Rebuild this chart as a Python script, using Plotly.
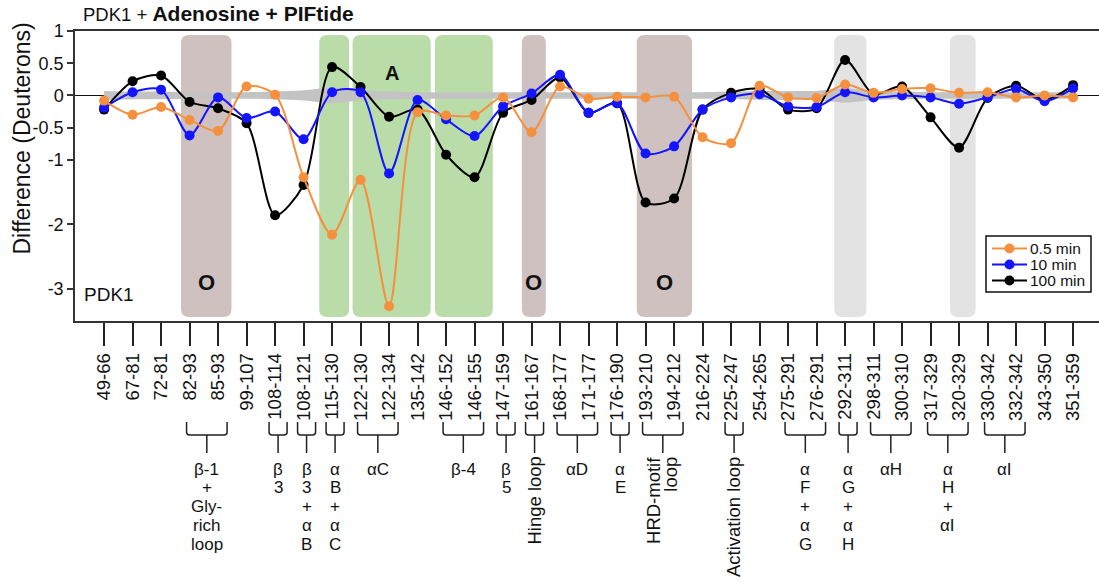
import plotly.graph_objects as go

# ---------------- data ----------------
peptides = ["49-66", "67-81", "72-81", "82-93", "85-93", "99-107", "108-114", "108-121",
            "115-130", "122-130", "122-134", "135-142", "146-152", "146-155", "147-159",
            "161-167", "168-177", "171-177", "176-190", "193-210", "194-212", "216-224",
            "225-247", "254-265", "275-291", "276-291", "292-311", "298-311", "300-310",
            "317-329", "320-329", "330-342", "332-342", "343-350", "351-359"]

diff_05min = [-0.08, -0.30, -0.18, -0.38, -0.55, 0.14, 0.01, -1.27, -2.16, -1.31, -3.27, -0.26,
              -0.31, -0.31, -0.03, -0.57, 0.14, -0.05, -0.02, -0.03, -0.02, -0.65, -0.74, 0.15,
              -0.03, -0.04, 0.17, 0.04, 0.10, 0.11, 0.04, 0.05, -0.03, 0.00, -0.03]
diff_10min = [-0.19, 0.05, 0.09, -0.62, -0.03, -0.35, -0.25, -0.68, 0.05, 0.05, -1.21, -0.07,
              -0.37, -0.63, -0.17, 0.03, 0.32, -0.27, -0.12, -0.90, -0.79, -0.22, -0.03, 0.02,
              -0.17, -0.18, 0.05, -0.03, 0.00, -0.03, -0.13, -0.03, 0.10, -0.09, 0.11]
diff_100min = [-0.22, 0.22, 0.31, -0.10, -0.20, -0.43, -1.86, -1.39, 0.44, 0.13, -0.33, -0.22,
               -0.92, -1.27, -0.27, -0.07, 0.28, -0.27, -0.12, -1.66, -1.60, -0.22, 0.04, 0.10,
               -0.22, -0.20, 0.55, 0.02, 0.14, -0.34, -0.81, -0.04, 0.15, -0.07, 0.16]
# significance band half-width (grey band around zero)
sd_band = [0.07, 0.06, 0.06, 0.05, 0.05, 0.05, 0.06, 0.08, 0.12, 0.08, 0.06, 0.05, 0.05, 0.05,
           0.05, 0.05, 0.05, 0.05, 0.05, 0.05, 0.05, 0.05, 0.06, 0.07, 0.07, 0.07, 0.11, 0.07,
           0.06, 0.05, 0.05, 0.05, 0.05, 0.05, 0.05]

series_names = ["0.5 min", "10 min", "100 min"]

y_tickvals = [1, 0.5, 0, -0.5, -1, -2, -3]
y_ticktext = ["1", "0.5", "0", "-0.5", "-1", "-2", "-3"]

# shaded regions (category positions, kind, label)
regions = [(2.70, 4.47, "brown", "O"), (7.55, 8.60, "green", ""), (8.72, 11.46, "green", "A"),
           (11.61, 13.64, "green", ""), (14.66, 15.50, "brown", "O"), (18.69, 20.63, "brown", "O"),
           (25.62, 26.75, "gray", ""), (29.68, 30.58, "gray", "")]

# secondary-structure groups (first peptide index, last peptide index, stacked label lines)
groups = [(3, 4, ["β-1", "+", "Gly-", "rich", "loop"]),
          (6, 6, ["β", "3"]),
          (7, 7, ["β", "3", "+", "α", "B"]),
          (8, 8, ["α", "B", "+", "α", "C"]),
          (9, 10, ["αC"]),
          (12, 13, ["β-4"]),
          (14, 14, ["β", "5"]),
          (16, 17, ["αD"]),
          (18, 18, ["α", "E"]),
          (24, 25, ["α", "F", "+", "α", "G"]),
          (26, 26, ["α", "G", "+", "α", "H"]),
          (27, 28, ["αH"]),
          (29, 30, ["α", "H", "+", "αI"]),
          (31, 32, ["αI"])]
# groups with rotated labels
rot_groups = [(15, 15, ["Hinge loop"]),
              (19, 20, ["HRD-motif", "loop"]),
              (22, 22, ["Activation loop"])]

# ---------------- layout geometry ----------------
W, H = 1099, 583
ML, MR, MT, MB = 75, 0, 31, 262
PW, PH = W - ML - MR, H - MT - MB
X_RANGE = [-1.02, 34.91]
Y_RANGE = [-3.5, 1.0]
PX_PER_X = PW / (X_RANGE[1] - X_RANGE[0])
PX_PER_Y = PH / (Y_RANGE[1] - Y_RANGE[0])
FONT = "Arial, Liberation Sans, sans-serif"

COL_05 = "#f5913e"
COL_10 = "#1414ff"
COL_100 = "#000000"
REGION_COL = {"brown": "#cfc1c0", "green": "#badca9", "gray": "#e3e3e3"}


def py2paper(py):
    return (MT + PH - py) / PH


def px2paper(px):
    return (px - ML) / PW


x_idx = list(range(len(peptides)))

fig = go.Figure()

# grey band
fig.add_trace(go.Scatter(x=x_idx, y=[-v for v in sd_band], mode="lines",
                         line=dict(width=0, shape="spline", smoothing=0.8, color="#c3c3c3"),
                         showlegend=False, hoverinfo="skip"))
fig.add_trace(go.Scatter(x=x_idx, y=sd_band, mode="lines", fill="tonexty",
                         fillcolor="#c3c3c3",
                         line=dict(width=0, shape="spline", smoothing=0.8, color="#c3c3c3"),
                         showlegend=False, hoverinfo="skip"))

for vals, name, col in [(diff_100min, series_names[2], COL_100),
                        (diff_10min, series_names[1], COL_10),
                        (diff_05min, series_names[0], COL_05)]:
    fig.add_trace(go.Scatter(x=x_idx, y=vals, name=name, mode="lines+markers",
                             line=dict(color=col, width=2, shape="spline", smoothing=0.8),
                             marker=dict(color=col, size=10), showlegend=False))

# tick dots under the x axis
fig.add_trace(go.Scatter(x=x_idx, y=[Y_RANGE[0] - 7.3 / PX_PER_Y] * len(x_idx), mode="markers",
                         marker=dict(color="black", size=9), cliponaxis=False,
                         showlegend=False, hoverinfo="skip"))

shapes = []
annotations = []

# shaded regions with rounded corners
rx = 8 / PX_PER_X
ry = 8 / PH
for x0, x1, kind, lab in regions:
    y1 = py2paper(35)
    y0 = py2paper(317)
    path = (f"M {x0+rx},{y1} L {x1-rx},{y1} Q {x1},{y1} {x1},{y1-ry} L {x1},{y0+ry} "
            f"Q {x1},{y0} {x1-rx},{y0} L {x0+rx},{y0} Q {x0},{y0} {x0},{y0+ry} "
            f"L {x0},{y1-ry} Q {x0},{y1} {x0+rx},{y1} Z")
    shapes.append(dict(type="path", path=path, xref="x", yref="paper",
                       fillcolor=REGION_COL[kind], line=dict(width=0), layer="below"))
    if lab == "O":
        annotations.append(dict(x=(x0 + x1) / 2, y=py2paper(297), xref="x", yref="paper",
                                text="<b>O</b>", showarrow=False,
                                font=dict(family=FONT, size=22, color="#111")))
    elif lab == "A":
        annotations.append(dict(x=(x0 + x1) / 2, y=py2paper(60), xref="x", yref="paper",
                                text="<b>A</b>", showarrow=False,
                                font=dict(family=FONT, size=20, color="#111")))

annotations.append(dict(x=px2paper(82), y=py2paper(307), xref="paper", yref="paper",
                        xanchor="left", text="PDK1", showarrow=False,
                        font=dict(family=FONT, size=19, color="#111")))

# y-axis title (sits above the plot centre in the reference)
annotations.append(dict(x=px2paper(21.5), y=py2paper(139), xref="paper", yref="paper",
                        xanchor="center", yanchor="middle", textangle=-90,
                        text="Difference (Deuterons)", showarrow=False,
                        font=dict(family=FONT, size=23, color="#111")))

# brackets
OFF = 3 / PX_PER_X
Y_ARM = py2paper(422)
Y_BAR = py2paper(435)
Y_STEM = py2paper(453)
cr_x = 3 / PX_PER_X
cr_y = 3 / PH


def bracket(i0, i1):
    if i0 == i1:
        left, right = i0 + OFF - 9 / PX_PER_X, i0 + OFF + 9 / PX_PER_X
    else:
        left, right = i0 + OFF - 6 / PX_PER_X, i1 + OFF + 6 / PX_PER_X
    c = (left + right) / 2
    path = (f"M {left},{Y_ARM} L {left},{Y_BAR+cr_y} Q {left},{Y_BAR} {left+cr_x},{Y_BAR} "
            f"L {right-cr_x},{Y_BAR} Q {right},{Y_BAR} {right},{Y_BAR+cr_y} L {right},{Y_ARM} "
            f"M {c},{Y_BAR} L {c},{Y_STEM}")
    shapes.append(dict(type="path", path=path, xref="x", yref="paper",
                       line=dict(color="#222", width=1.5)))
    return c


for i0, i1, lines in groups:
    c = bracket(i0, i1)
    for k, t in enumerate(lines):
        annotations.append(dict(x=c, y=py2paper(469 + 18.8 * k), xref="x", yref="paper",
                                text=t, showarrow=False, xanchor="center", yanchor="middle",
                                font=dict(family=FONT, size=17, color="#111")))

for i0, i1, lines in rot_groups:
    c = bracket(i0, i1)
    n = len(lines)
    for k, t in enumerate(lines):
        dx = (k - (n - 1) / 2) * 16.7 / PX_PER_X - 1 / PX_PER_X
        annotations.append(dict(x=c + dx, y=py2paper(455), xref="x", yref="paper",
                                text=t, showarrow=False, textangle=-90,
                                xanchor="center", yanchor="top",
                                font=dict(family=FONT, size=18.5, color="#111")))

# manual legend
LX0, LX1, LY0, LY1 = 986, 1091, 236, 292
shapes.append(dict(type="rect", xref="paper", yref="paper",
                   x0=px2paper(LX0), x1=px2paper(LX1), y0=py2paper(LY1), y1=py2paper(LY0),
                   line=dict(color="#111", width=1.5), fillcolor="white"))
for k, (name, col) in enumerate(zip(series_names, [COL_05, COL_10, COL_100])):
    cy = 248.5 + 16 * k
    yy = py2paper(cy)
    shapes.append(dict(type="line", xref="paper", yref="paper",
                       x0=px2paper(992), x1=px2paper(1027), y0=yy, y1=yy,
                       line=dict(color=col, width=2)))
    r = 5
    shapes.append(dict(type="circle", xref="paper", yref="paper",
                       x0=px2paper(1009.5 - r), x1=px2paper(1009.5 + r),
                       y0=py2paper(cy + r), y1=py2paper(cy - r),
                       fillcolor=col, line=dict(color=col, width=0)))
    annotations.append(dict(x=px2paper(1028), y=yy, xref="paper", yref="paper",
                            xanchor="left", yanchor="middle", text=name, showarrow=False,
                            font=dict(family=FONT, size=15.5, color="#111")))

fig.update_layout(
    width=W, height=H,
    margin=dict(l=ML, r=MR, t=MT, b=MB),
    plot_bgcolor="white", paper_bgcolor="white",
    title=dict(text="PDK1 + <b><span style='font-size:21px'>Adenosine + PIFtide</span></b>",
               x=83 / W, xanchor="left", xref="container",
               y=1 - 15 / H, yanchor="middle", yref="container",
               font=dict(family=FONT, size=18.5, color="#111")),
    showlegend=False,
    shapes=shapes,
    annotations=annotations,
    xaxis=dict(range=X_RANGE, tickmode="array", tickvals=x_idx, ticktext=peptides,
               tickangle=-90, ticks="outside", ticklen=23, tickwidth=1.5, tickcolor="#222",
               showline=True, linecolor="#333", linewidth=1.5, mirror=True,
               showgrid=False, zeroline=False,
               tickfont=dict(family=FONT, size=18.5, color="#111")),
    yaxis=dict(range=Y_RANGE, tickmode="array", tickvals=y_tickvals, ticktext=y_ticktext,
               ticks="outside", ticklen=6, tickwidth=1.5, tickcolor="#333",
               showline=True, linecolor="#333", linewidth=1.5, mirror=False,
               showgrid=False, zeroline=True, zerolinecolor="#111", zerolinewidth=1.2,
               tickfont=dict(family=FONT, size=18, color="#111")),
)

fig.write_html("out.html")
